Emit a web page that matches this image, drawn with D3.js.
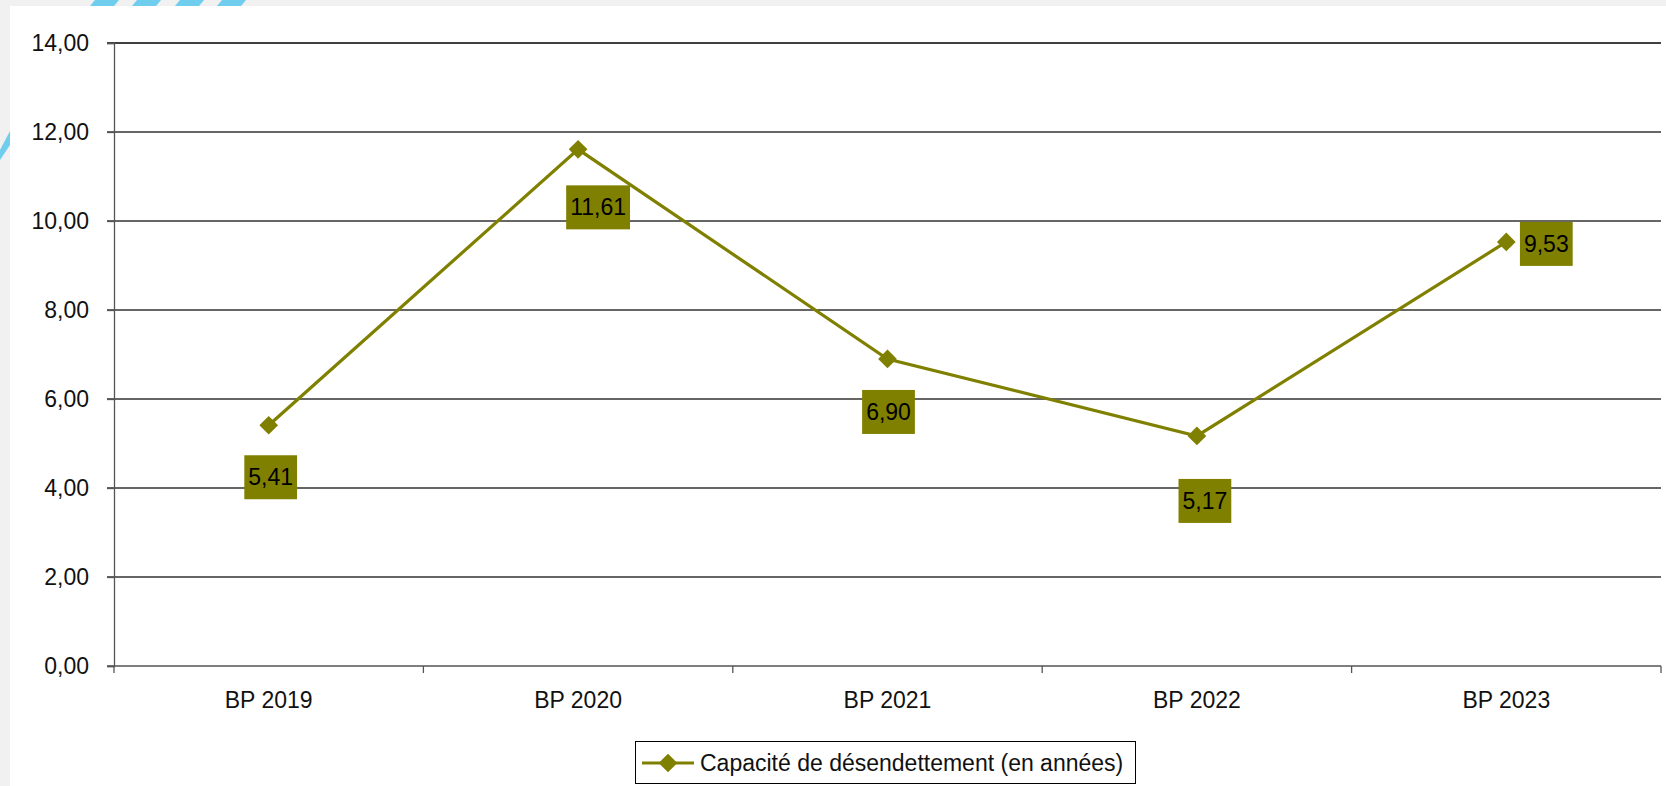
<!DOCTYPE html>
<html>
<head>
<meta charset="utf-8">
<script src="https://cdn.jsdelivr.net/npm/d3@7"></script>
<style>
  html, body { margin: 0; padding: 0; background: #f1f1f1; }
  svg { display: block; font-family: "Liberation Sans", Arial, sans-serif; }
</style>
</head>
<body>
<svg id="chart" width="1666" height="786"></svg>
<script>
// données du graphique
const categories = ["BP 2019", "BP 2020", "BP 2021", "BP 2022", "BP 2023"];
const values = [5.41, 11.61, 6.90, 5.17, 9.53];
const yTicks = [0, 2, 4, 6, 8, 10, 12, 14];
const seriesName = "Capacité de désendettement (en années)";

const fmt = (v) => v.toFixed(2).replace(".", ",");
const OLIVE = "#808000";
const FS = 23;

// décalage des étiquettes (placées à la main dans le classeur d'origine)
const labelShift = [[2, 52], [20, 58], [1, 53], [8, 65], [40, 2]];

const svg = d3.select("#chart");

// fond : rayures bleues qui dépassent derrière la zone blanche
const stripes = svg.append("g").attr("fill", "#6fcdee");
[95, 137, 180, 222].forEach((x0) => {
  stripes.append("path").attr("d", `M${x0},0 L${x0 + 24},0 L${x0 + 14},12 L${x0 - 10},12 Z`);
});
stripes.append("path").attr("d", "M0,150 L20,112 L20,130 L0,160 Z");
svg.append("rect").attr("x", 10).attr("y", 6).attr("width", 1656).attr("height", 780).attr("fill", "#fff");

const pLeft = 114, pRight = 1661, pTop = 43, pBottom = 666;

const x = d3.scaleBand().domain(categories).range([pLeft, pRight]).padding(0);
const y = d3.scaleLinear().domain([0, 14]).range([pBottom, pTop]);
const cx = (i) => x(categories[i]) + x.bandwidth() / 2;

// grille horizontale
svg.append("g").selectAll("line").data(yTicks.filter((t) => t > 0)).join("line")
  .attr("x1", pLeft - 7).attr("x2", pRight)
  .attr("y1", (d) => y(d)).attr("y2", (d) => y(d))
  .attr("stroke", (d) => d === 14 ? "#000" : "#333")
  .attr("stroke-width", (d) => d === 14 ? 1.6 : 1.3);

// axe Y
const yAxis = svg.append("g").attr("transform", `translate(${pLeft},0)`)
  .call(d3.axisLeft(y).tickValues(yTicks).tickFormat(fmt).tickSize(7).tickPadding(18));
yAxis.select(".domain").attr("stroke", "#555").attr("stroke-width", 1.3);
yAxis.selectAll(".tick line").attr("stroke", "#555").attr("stroke-width", 1.3);
yAxis.selectAll("text").attr("font-size", FS).attr("fill", "#111")
  .attr("font-family", "Liberation Sans, Arial, sans-serif");

// axe X
svg.append("line").attr("x1", pLeft - 7).attr("x2", pRight)
  .attr("y1", pBottom).attr("y2", pBottom).attr("stroke", "#555").attr("stroke-width", 1.3);
svg.append("g").selectAll("line").data(d3.range(categories.length + 1)).join("line")
  .attr("x1", (i) => pLeft + i * x.step()).attr("x2", (i) => pLeft + i * x.step())
  .attr("y1", pBottom).attr("y2", pBottom + 7)
  .attr("stroke", "#555").attr("stroke-width", 1.3);
svg.append("g").selectAll("text").data(categories).join("text")
  .attr("x", (d, i) => cx(i))
  .attr("y", 708)
  .attr("text-anchor", "middle")
  .attr("font-size", FS).attr("fill", "#111")
  .text((d) => d);

// courbe
const line = d3.line().x((d, i) => cx(i)).y((d) => y(d));
svg.append("path").datum(values)
  .attr("d", line).attr("fill", "none")
  .attr("stroke", OLIVE).attr("stroke-width", 3.2);

const diamond = d3.symbol(d3.symbolSquare, 175);
svg.append("g").selectAll("path").data(values).join("path")
  .attr("d", diamond)
  .attr("fill", OLIVE)
  .attr("transform", (d, i) => `translate(${cx(i)},${y(d)}) rotate(45)`);

// étiquettes de données
const labels = svg.append("g").selectAll("g").data(values).join("g")
  .attr("transform", (d, i) =>
    `translate(${cx(i) + labelShift[i][0]},${y(d) + labelShift[i][1]})`);
labels.append("text")
  .attr("text-anchor", "middle").attr("dy", "0.35em")
  .attr("font-size", FS).attr("fill", "#000")
  .text((d) => fmt(d));
labels.each(function () {
  const g = d3.select(this);
  const b = g.select("text").node().getBBox();
  g.insert("rect", "text")
    .attr("x", b.x - 4).attr("y", -22)
    .attr("width", b.width + 8).attr("height", 44)
    .attr("fill", OLIVE);
});

// légende
const lg = svg.append("g");
lg.append("rect").attr("x", 635.5).attr("y", 741.5).attr("width", 500).attr("height", 42)
  .attr("fill", "#fff").attr("stroke", "#000").attr("stroke-width", 1);
lg.append("line").attr("x1", 642).attr("x2", 694).attr("y1", 763).attr("y2", 763)
  .attr("stroke", OLIVE).attr("stroke-width", 3.2);
lg.append("path").attr("d", diamond).attr("fill", OLIVE)
  .attr("transform", "translate(668,763) rotate(45)");
lg.append("text").attr("x", 700).attr("y", 763).attr("dy", "0.35em")
  .attr("font-size", FS).attr("fill", "#111").text(seriesName);
</script>
</body>
</html>
